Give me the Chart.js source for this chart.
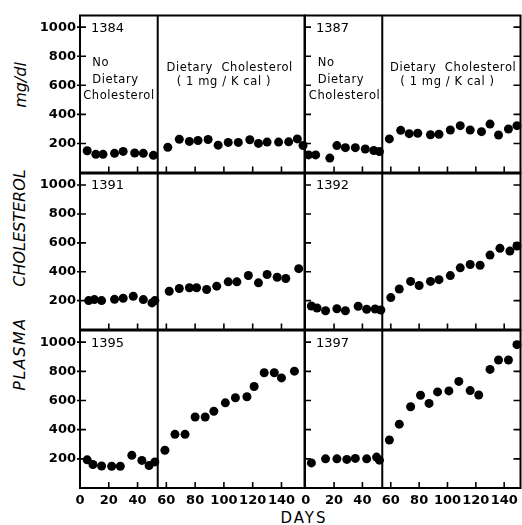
<!DOCTYPE html>
<html>
<head>
<meta charset="utf-8">
<script src="https://cdn.jsdelivr.net/npm/chart.js@4.4.1/dist/chart.umd.min.js"></script>
<style>
  html, body { margin: 0; padding: 0; background: #fff; }
  #wrap { position: relative; width: 522px; height: 525px; overflow: hidden; font-family: "DejaVu Sans", sans-serif; color: #000; }
  #wrap canvas { position: absolute; }
  .ytitle { position: absolute; transform: translate(-50%, -50%) rotate(-90deg); font-style: italic; font-size: 16px; white-space: nowrap; }
  .xtitle { position: absolute; transform: translate(-50%, -50%); font-size: 15px; letter-spacing: 2px; white-space: nowrap; }
</style>
</head>
<body>
<div id="wrap">
  <div class="ytitle" style="left:19px; top:354px; letter-spacing:1.5px;">PLASMA</div>
  <div class="ytitle" style="left:19px; top:228px;">CHOLESTEROL</div>
  <div class="ytitle" style="left:20px; top:85px;">mg/dl</div>
  <div class="xtitle" style="left:304px; top:518px;">DAYS</div>
</div>
<script>
// --- Data ---
const animalIds = ["1384", "1387", "1391", "1392", "1395", "1397"];

const days1384 = [5, 11, 16, 24, 30, 38, 44, 51, 61, 69, 76, 82, 89, 96, 103, 110, 118, 124, 130, 138, 145, 151, 155];
const chol1384 = [150, 125, 125, 132, 145, 134, 132, 118, 173, 229, 214, 220, 227, 188, 207, 207, 225, 200, 209, 209, 211, 231, 186];

const days1387 = [2, 7, 17, 22, 28, 35, 42, 48, 52, 59, 67, 73, 79, 88, 94, 102, 109, 116, 124, 130, 136, 143, 149];
const chol1387 = [121, 121, 99, 185, 171, 171, 162, 151, 144, 231, 290, 267, 270, 260, 263, 292, 322, 292, 281, 333, 258, 299, 322];

const days1391 = [6, 10, 15, 24, 30, 37, 44, 50, 52, 62, 69, 76, 81, 88, 95, 103, 109, 117, 124, 130, 137, 143, 152];
const chol1391 = [200, 207, 200, 209, 216, 230, 207, 184, 200, 265, 284, 289, 289, 277, 300, 330, 330, 374, 323, 381, 362, 353, 421];

const days1392 = [4, 8, 14, 22, 28, 37, 43, 49, 53, 60, 66, 74, 80, 88, 94, 102, 109, 116, 123, 130, 137, 144, 149];
const chol1392 = [163, 149, 130, 144, 130, 161, 140, 142, 135, 221, 280, 333, 305, 333, 345, 373, 427, 450, 445, 515, 562, 543, 578];

const days1395 = [5, 9, 15, 22, 28, 36, 43, 48, 52, 59, 66, 73, 80, 87, 93, 101, 108, 116, 121, 128, 135, 140, 149];
const chol1395 = [193, 161, 151, 149, 149, 224, 189, 154, 179, 259, 368, 368, 487, 487, 526, 584, 619, 626, 696, 790, 790, 755, 801];

const days1397 = [4, 14, 22, 29, 35, 43, 50, 52, 59, 66, 74, 81, 87, 93, 101, 108, 116, 122, 130, 136, 143, 149];
const chol1397 = [172, 200, 200, 196, 203, 200, 212, 191, 329, 438, 557, 636, 580, 659, 666, 731, 668, 638, 813, 878, 878, 983];

const dayTicks = [0, 20, 40, 60, 80, 100, 120, 140];
const cholTicks = [200, 400, 600, 800, 1000];
const dietStartDay = 54;

const noDietText = ["No", "Dietary", "Cholesterol"];
const dietText = ["Dietary  Cholesterol", "( 1 mg / K cal )"];

const panelData = [
    [days1384, chol1384], [days1387, chol1387],
    [days1391, chol1391], [days1392, chol1392],
    [days1395, chol1395], [days1397, chol1397],
];

// --- Layout ---
const colEdges = [[80, 305], [305, 521]];
const rowEdges = [[15, 173], [173, 330], [330, 488]];
const FONT = "DejaVu Sans";

// frame, phase line, inward ticks, panel labels
const panelPlugin = {
    id: "panelFrame",
    beforeDatasetsDraw(chart, args, opts) {
        const { ctx, chartArea: a } = chart;
        const x = chart.scales.x, y = chart.scales.y;
        ctx.save();
        ctx.strokeStyle = "#000";
        ctx.lineWidth = 2;
        ctx.strokeRect(a.left, a.top, a.right - a.left, a.bottom - a.top);

        const sx = x.getPixelForValue(dietStartDay);
        ctx.beginPath();
        ctx.moveTo(sx, a.top);
        ctx.lineTo(sx, a.bottom);
        ctx.stroke();

        ctx.lineWidth = 1.6;
        ctx.beginPath();
        cholTicks.forEach((v) => {
            const py = y.getPixelForValue(v);
            ctx.moveTo(a.left - (opts.left ? 3 : 0), py);
            ctx.lineTo(a.left + 6, py);
            if (!opts.left) {
                ctx.moveTo(a.right - 7, py);
                ctx.lineTo(a.right, py);
            }
        });
        dayTicks.filter((v) => v > 0).forEach((v) => {
            const px = x.getPixelForValue(v);
            ctx.moveTo(px, a.bottom);
            ctx.lineTo(px, a.bottom - 6);
        });
        ctx.stroke();

        ctx.fillStyle = "#000";
        ctx.textBaseline = "middle";
        ctx.font = "13px '" + FONT + "'";
        ctx.textAlign = "left";
        ctx.fillText(opts.label, a.left + 11, y.getPixelForValue(1000) + 1);

        if (opts.top) {
            ctx.font = "11.5px '" + FONT + "'";
            if ("letterSpacing" in ctx) ctx.letterSpacing = "0.6px";
            ctx.fillText(noDietText[0], x.getPixelForValue(8.5), y.getPixelForValue(750));
            ctx.fillText(noDietText[1], x.getPixelForValue(8.5), y.getPixelForValue(634));
            ctx.fillText(noDietText[2], x.getPixelForValue(2.2), y.getPixelForValue(524));
            ctx.textAlign = "center";
            ctx.fillText(dietText[0], x.getPixelForValue(104), y.getPixelForValue(722));
            ctx.fillText(dietText[1], x.getPixelForValue(100), y.getPixelForValue(620));
        }
        ctx.restore();
    },
};

// fixed axis size, no label overhang padding
function fixSize(prop, size) {
    return (s) => {
        s[prop] = size;
        s.paddingTop = 0;
        s.paddingBottom = 0;
        s.paddingLeft = 0;
        s.paddingRight = 0;
    };
}

function createPanel(idx) {
    const col = idx % 2;
    const row = Math.floor(idx / 2);
    const isLeft = col === 0;
    const isBottom = row === 2;
    const axisW = isLeft ? 80 : 12;
    const axisH = isBottom ? 30 : 4;
    const padTop = 4, padRight = 4;
    const [c0, c1] = colEdges[col];
    const [r0, r1] = rowEdges[row];

    const canvas = document.createElement("canvas");
    canvas.width = axisW + (c1 - c0) + padRight;
    canvas.height = padTop + (r1 - r0) + axisH;
    canvas.style.left = (c0 - axisW) + "px";
    canvas.style.top = (r0 - padTop) + "px";
    document.getElementById("wrap").appendChild(canvas);

    const [days, chol] = panelData[idx];
    const tickFont = { family: FONT, size: 13, weight: "bold" };

    return new Chart(canvas.getContext("2d"), {
        type: "scatter",
        data: {
            datasets: [
                {
                    data: days.map((d, i) => ({ x: d, y: chol[i] })),
                    backgroundColor: "#000",
                    borderWidth: 0,
                    pointRadius: 4.5,
                    clip: false,
                },
            ],
        },
        options: {
            responsive: false,
            animation: false,
            events: [],
            layout: { padding: { top: padTop, right: padRight, left: 0, bottom: 0 } },
            plugins: {
                legend: { display: false },
                tooltip: { enabled: false },
                panelFrame: { label: animalIds[idx], left: isLeft, top: row === 0 },
            },
            scales: {
                x: {
                    type: "linear",
                    min: isLeft ? 0 : -0.5,
                    max: isLeft ? 156 : 151.5,
                    grid: { display: false, drawTicks: false },
                    border: { display: false },
                    afterBuildTicks: (s) => { s.ticks = dayTicks.map((v) => ({ value: v })); },
                    afterFit: fixSize("height", axisH),
                    ticks: {
                        display: isBottom,
                        padding: 5,
                        color: "#000",
                        font: tickFont,
                        maxRotation: 0,
                        autoSkip: false,
                        callback: (v) => String(v),
                    },
                },
                y: {
                    type: "linear",
                    min: 0,
                    max: 1080,
                    grid: { display: false, drawTicks: false },
                    border: { display: false },
                    afterBuildTicks: (s) => { s.ticks = cholTicks.map((v) => ({ value: v })); },
                    afterFit: fixSize("width", axisW),
                    ticks: {
                        display: isLeft,
                        padding: 4,
                        color: "#000",
                        font: tickFont,
                        callback: (v) => String(v),
                    },
                },
            },
        },
        plugins: [panelPlugin],
    });
}

animalIds.forEach((id, i) => createPanel(i));
</script>
</body>
</html>
